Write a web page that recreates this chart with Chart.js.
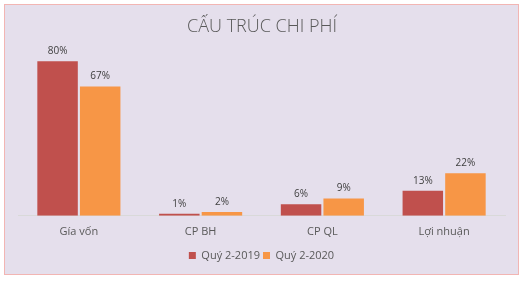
<!DOCTYPE html>
<html><head><meta charset="utf-8">
<script src="https://cdn.jsdelivr.net/npm/chart.js@4/dist/chart.umd.min.js"></script>
<style>html,body{margin:0;padding:0;background:#fff}#wrap{width:523px;height:283px}</style>
</head><body><div id="wrap"><canvas id="c" width="523" height="283"></canvas></div>
<script>
const categories = ["Gía vốn", "CP BH", "CP QL", "Lợi nhuận"];
const seriesNames = ["Quý 2-2019", "Quý 2-2020"];
const q2019 = [80, 1, 6, 13];
const q2020 = [67, 2, 9, 22];
const chartTitle = "CẤU TRÚC CHI PHÍ";
const FONT = "'Open Sans', 'Noto Sans', sans-serif";

const bgPlugin = {
  id: 'bg',
  beforeDraw(chart) {
    const ctx = chart.ctx;
    ctx.save();
    ctx.fillStyle = '#fff';
    ctx.fillRect(0, 0, chart.width, chart.height);
    ctx.fillStyle = '#E5DFEC';
    ctx.fillRect(4.5, 4.5, 514, 270);
    ctx.strokeStyle = '#F2B5B3';
    ctx.lineWidth = 1;
    ctx.strokeRect(4.5, 4.5, 514, 270);
    ctx.fillStyle = '#595959';
    ctx.font = "300 18px " + FONT;
    ctx.textAlign = 'center';
    ctx.textBaseline = 'middle';
    ctx.fillText(chartTitle, 262, 27);
    ctx.restore();
  }
};
const labelPlugin = {
  id: 'lbl',
  afterDatasetsDraw(chart) {
    const ctx = chart.ctx;
    ctx.save();
    ctx.fillStyle = '#404040';
    ctx.font = "10px " + FONT;
    ctx.textAlign = 'center';
    ctx.textBaseline = 'bottom';
    chart.data.datasets.forEach((ds, i) => {
      chart.getDatasetMeta(i).data.forEach((bar, j) => {
        ctx.fillText(ds.data[j] + '%', bar.x, bar.y - 5);
      });
    });
    ctx.restore();
  }
};

new Chart(document.getElementById('c'), {
  type: 'bar',
  data: {
    labels: categories,
    datasets: [
      { label: seriesNames[0], data: q2019, backgroundColor: '#C0504D' },
      { label: seriesNames[1], data: q2020, backgroundColor: '#F79646' }
    ]
  },
  options: {
    responsive: false,
    animation: false,
    layout: { padding: { left: 18, right: 18, top: 42, bottom: 12 } },
    datasets: { bar: { categoryPercentage: 0.7, barPercentage: 0.95 } },
    scales: {
      x: {
        grid: { display: false, drawTicks: false },
        border: { display: true, color: '#D9D9D9' },
        ticks: { color: '#595959', font: { family: FONT, size: 11 }, padding: 9 }
      },
      y: { display: false, min: 0, max: 90 }
    },
    plugins: {
      legend: {
        position: 'bottom',
        labels: { color: '#595959', font: { family: FONT, size: 11 }, boxWidth: 7, boxHeight: 7, padding: 3 }
      },
      tooltip: { enabled: false },
      title: { display: false }
    }
  },
  plugins: [bgPlugin, labelPlugin]
});
</script></body></html>
